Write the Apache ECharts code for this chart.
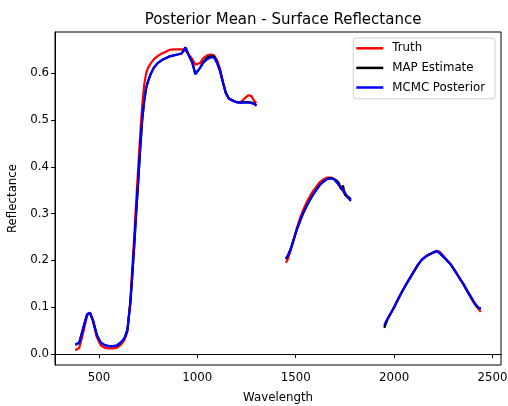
<!DOCTYPE html>
<html>
<head>
<meta charset="utf-8">
<script src="https://cdn.jsdelivr.net/npm/echarts@6/dist/echarts.min.js"></script>
<style>
  html, body { margin: 0; padding: 0; background: #fff; }
  #chart { width: 508px; height: 406px; }
</style>
</head>
<body>
<div id="chart"></div>
<script>
// wavelengths, null marks a gap between bands
var wavelengths = [
	380, 400, 420, 440, 455, 470, 490, 510, 530, 550, 570, 590, 610, 630, 645, 660, 670, 680, 690, 700,
	710, 720, 730, 740, 750, 765, 780, 800, 820, 840, 860, 880, 900, 920, 930, 940, 950, 960, 975, 990,
	1000, 1015, 1030, 1050, 1070, 1085, 1100, 1115, 1130, 1145, 1160, 1180, 1200, 1220, 1240, 1260, 1275, 1290, 1300,
	null,
	1450, 1460, 1475, 1490, 1505, 1520, 1540, 1560, 1580, 1600, 1620, 1640, 1660, 1680, 1695, 1710, 1720, 1730, 1740, 1750, 1760, 1770, 1780,
	null,
	1950, 1965, 1980, 2000, 2020, 2040, 2060, 2080, 2100, 2120, 2140, 2160, 2180, 2200, 2215, 2230, 2250, 2270, 2290, 2310, 2330, 2350, 2370, 2390, 2410, 2425, 2440
];

var truth = [
	0.008, 0.013, 0.045, 0.082, 0.088, 0.070, 0.035, 0.018, 0.013, 0.012, 0.012, 0.013, 0.019, 0.030, 0.048, 0.115, 0.185, 0.255, 0.330, 0.400,
	0.470, 0.530, 0.575, 0.600, 0.612, 0.622, 0.630, 0.637, 0.642, 0.646, 0.650, 0.651, 0.651, 0.651, 0.650, 0.648, 0.645, 0.638, 0.630, 0.618,
	0.615, 0.622, 0.632, 0.638, 0.640, 0.638, 0.628, 0.610, 0.582, 0.556, 0.546, 0.542, 0.538, 0.538, 0.546, 0.553, 0.551, 0.540, 0.536,
	null,
	0.195, 0.203, 0.222, 0.245, 0.268, 0.288, 0.310, 0.328, 0.343, 0.355, 0.366, 0.373, 0.377, 0.377, 0.374, 0.367, 0.360, 0.354, 0.348, 0.342, 0.336, 0.332, 0.328,
	null,
	0.060, 0.073, 0.085, 0.100, 0.117, 0.133, 0.148, 0.162, 0.176, 0.190, 0.201, 0.208, 0.213, 0.217, 0.220, 0.219, 0.210, 0.200, 0.190, 0.177, 0.163, 0.150, 0.135, 0.120, 0.106, 0.098, 0.090
];

var mapEstimate = [
	0.020, 0.024, 0.055, 0.085, 0.088, 0.072, 0.040, 0.024, 0.019, 0.017, 0.017, 0.018, 0.024, 0.034, 0.052, 0.110, 0.170, 0.235, 0.305, 0.370,
	0.440, 0.500, 0.540, 0.568, 0.583, 0.600, 0.612, 0.622, 0.628, 0.632, 0.636, 0.638, 0.640, 0.642, 0.643, 0.655, 0.645, 0.635, 0.622, 0.598,
	0.600, 0.612, 0.624, 0.633, 0.637, 0.636, 0.624, 0.606, 0.580, 0.558, 0.546, 0.541, 0.538, 0.537, 0.538, 0.538, 0.537, 0.535, 0.531,
	null,
	0.203, 0.210, 0.225, 0.245, 0.265, 0.282, 0.303, 0.320, 0.335, 0.348, 0.360, 0.368, 0.374, 0.376, 0.374, 0.370, 0.365, 0.352, 0.360, 0.340, 0.342, 0.335, 0.330,
	null,
	0.056, 0.073, 0.085, 0.100, 0.117, 0.133, 0.148, 0.162, 0.176, 0.190, 0.201, 0.208, 0.213, 0.217, 0.220, 0.216, 0.208, 0.199, 0.190, 0.177, 0.164, 0.151, 0.136, 0.122, 0.108, 0.100, 0.096
];

var mcmcPosterior = [
	0.020, 0.024, 0.055, 0.085, 0.088, 0.072, 0.040, 0.024, 0.019, 0.017, 0.017, 0.018, 0.024, 0.034, 0.052, 0.110, 0.170, 0.235, 0.305, 0.370,
	0.440, 0.500, 0.540, 0.568, 0.583, 0.600, 0.612, 0.622, 0.628, 0.632, 0.636, 0.638, 0.640, 0.642, 0.643, 0.655, 0.645, 0.635, 0.622, 0.598,
	0.600, 0.612, 0.622, 0.630, 0.634, 0.633, 0.622, 0.605, 0.580, 0.558, 0.546, 0.541, 0.538, 0.537, 0.537, 0.537, 0.536, 0.534, 0.530,
	null,
	0.205, 0.210, 0.225, 0.245, 0.265, 0.282, 0.303, 0.320, 0.335, 0.348, 0.360, 0.368, 0.374, 0.375, 0.373, 0.366, 0.362, 0.356, 0.358, 0.345, 0.338, 0.340, 0.327,
	null,
	0.062, 0.074, 0.085, 0.100, 0.117, 0.133, 0.148, 0.162, 0.176, 0.190, 0.201, 0.208, 0.213, 0.217, 0.220, 0.216, 0.208, 0.199, 0.190, 0.177, 0.164, 0.151, 0.136, 0.122, 0.108, 0.100, 0.097
];

var xTicks = [500, 1000, 1500, 2000, 2500];
var yTicks = [0, 0.1, 0.2, 0.3, 0.4, 0.5, 0.6];

function pairs(values){
	return wavelengths.map(function(w, i){
		if (w === null) return '-';
		return [w, values[i]];
	});
}

var font = 'DejaVu Sans';
var dom = document.getElementById('chart');
var myChart = echarts.init(dom, null, {renderer: 'canvas'});

var option = {
	animation: false,
	title: {
		text: 'Posterior Mean - Surface Reflectance',
		left: 278,
		textAlign: 'center',
		top: 8,
		textStyle: {fontFamily: font, fontSize: 15, fontWeight: 'normal', color: '#000'}
	},
	legend: {
		orient: 'vertical',
		right: 13,
		top: 38,
		padding: [3, 10, 4, 3],
		itemGap: 5,
		itemWidth: 27,
		itemHeight: 2.5,
		icon: 'rect',
		borderColor: '#d0d0d0',
		borderWidth: 1,
		borderRadius: 3,
		backgroundColor: 'rgba(255,255,255,0.8)',
		textStyle: {fontFamily: font, fontSize: 11.8, color: '#000', lineHeight: 14.6, padding: [0, 0, 0, 4]},
		data: ['Truth', 'MAP Estimate', 'MCMC Posterior']
	},
	grid: {
		left: 55,
		right: 7,
		top: 32,
		bottom: 41,
		outerBoundsMode: 'none',
		show: true,
		borderColor: '#000',
		borderWidth: 1
	},
	xAxis: {
		type: 'value',
		min: 277,
		max: 2543,
		name: 'Wavelength',
		nameLocation: 'middle',
		nameGap: 27,
		nameTextStyle: {fontFamily: font, fontSize: 11.8, color: '#000'},
		splitLine: {show: false},
		axisLine: {show: true, lineStyle: {color: '#000', width: 1}},
		axisTick: {show: true, length: 4, lineStyle: {color: '#000'}, customValues: xTicks},
		axisLabel: {
			fontFamily: font, fontSize: 11.8, color: '#000', margin: 7, customValues: xTicks,
			formatter: function(v){ return String(v); }
		}
	},
	yAxis: {
		type: 'value',
		min: -0.0235,
		max: 0.688,
		name: 'Reflectance',
		nameLocation: 'middle',
		nameGap: 30,
		nameTextStyle: {fontFamily: font, fontSize: 11.8, color: '#000'},
		splitLine: {show: false},
		axisLine: {show: true, lineStyle: {color: '#000', width: 1}},
		axisTick: {show: true, length: 4, lineStyle: {color: '#000'}, customValues: yTicks},
		axisLabel: {
			fontFamily: font, fontSize: 11.8, color: '#000', margin: 6, customValues: yTicks,
			formatter: function(v){ return v.toFixed(1); }
		}
	},
	series: [
		{
			name: 'Truth',
			type: 'line',
			showSymbol: false,
			connectNulls: false,
			itemStyle: {color: '#ff0000'},
			lineStyle: {color: '#ff0000', width: 2.2},
			data: pairs(truth)
		},
		{
			name: 'MAP Estimate',
			type: 'line',
			showSymbol: false,
			connectNulls: false,
			itemStyle: {color: '#000000'},
			lineStyle: {color: '#000000', width: 2.2},
			data: pairs(mapEstimate)
		},
		{
			name: 'MCMC Posterior',
			type: 'line',
			showSymbol: false,
			connectNulls: false,
			itemStyle: {color: '#0000ff'},
			lineStyle: {color: '#0000ff', width: 2.2},
			data: pairs(mcmcPosterior)
		}
	]
};

myChart.setOption(option, true);
</script>
</body>
</html>
